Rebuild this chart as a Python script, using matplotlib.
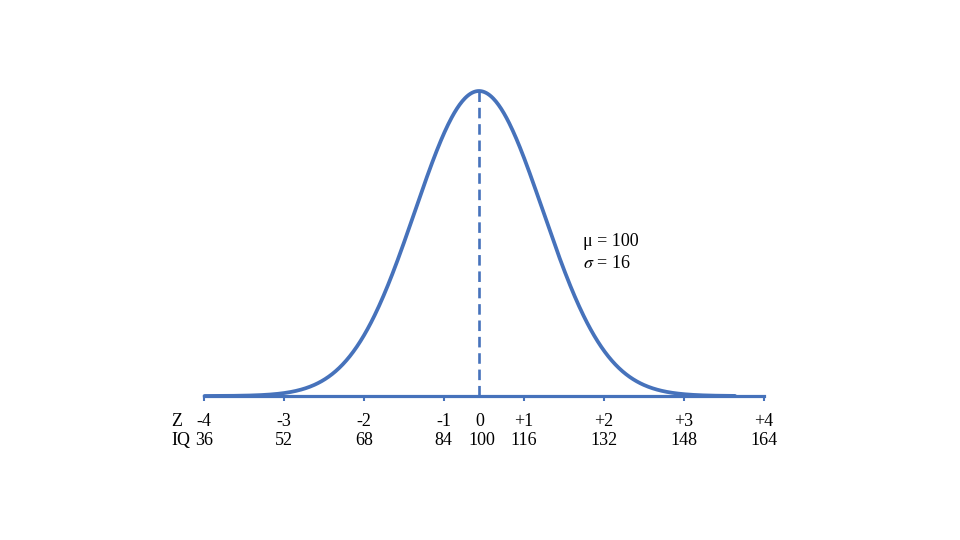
import numpy as np
import matplotlib
matplotlib.use('Agg')
import matplotlib.pyplot as plt

# axis labels (the diagram spaces -4..-1 and +1..+4 evenly, with 0 squeezed in the middle)
z_labels = ['-4', '-3', '-2', '-1', '+1', '+2', '+3', '+4']
iq_labels = ['36', '52', '68', '84', '116', '132', '148', '164']
tick_pos = [-3.44, -2.44, -1.44, -0.44, 0.56, 1.56, 2.56, 3.56]
zero_pos = 0.0
zero_label = '0'
zero_iq = '100'

# curve shape in diagram units (1 unit = one tick step)
curve_center = 0.0
curve_sd = 0.80
curve_start, curve_end = -3.43, 3.20

blue = '#4672bb'
plt.rcParams['font.family'] = ['Liberation Serif', 'DejaVu Serif']
plt.rcParams['mathtext.fontset'] = 'stix'

fig = plt.figure(figsize=(9.6, 5.4), dpi=100)
ax = fig.add_axes([0, 0, 1, 1])
ax.set_xlim(-479 / 80, 481 / 80)
ax.set_ylim(-144 / 305, 396 / 305)
ax.axis('off')

# bell curve
x = np.linspace(curve_start, curve_end, 600)
y = np.exp(-(x - curve_center) ** 2 / (2 * curve_sd ** 2))
ax.plot(x, y, color=blue, lw=2.7, solid_capstyle='round', zorder=3)

# baseline + small tick marks
ax.plot([tick_pos[0], tick_pos[-1]], [0, 0], color=blue, lw=2.3, zorder=2)
ax.vlines(tick_pos, -0.018, 0, color=blue, lw=1.5)

# dashed mean line
ax.plot([curve_center, curve_center], [0, 1], color=blue, lw=1.9,
        dashes=(4, 2.2), zorder=2)

# tick labels
fs = 13
z_y = -0.085
iq_y = -0.145
for p, zl, il in zip(tick_pos, z_labels, iq_labels):
    ax.text(p, z_y, zl, ha='center', va='center', fontsize=fs)
    ax.text(p, iq_y, il, ha='center', va='center', fontsize=fs)
ax.text(zero_pos + 0.01, z_y, zero_label, ha='center', va='center', fontsize=fs)
ax.text(zero_pos + 0.04, iq_y, zero_iq, ha='center', va='center', fontsize=fs)

# row names
ax.text((171 - 479) / 80, z_y, 'Z', ha='left', va='center', fontsize=fs)
ax.text((171 - 479) / 80, iq_y, 'IQ', ha='left', va='center', fontsize=fs)

# parameters
ax.text((583 - 479) / 80, (396 - 241) / 305, '\u03bc = 100', ha='left',
        va='center', fontsize=13)
ax.text((583 - 479) / 80, (396 - 264) / 305, '$\\sigma$ = 16', ha='left',
        va='center', fontsize=13)

fig.savefig('out.png', dpi=100)
